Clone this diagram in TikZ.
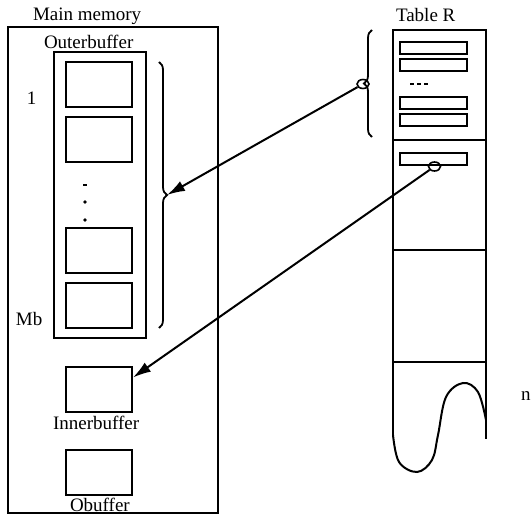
\documentclass[tikz,border=0pt]{standalone}
\usepackage{fontspec}
\setmainfont{Liberation Serif}
\usepackage{tikz}
\usetikzlibrary{shapes.geometric,decorations.pathreplacing,arrows.meta}

\tikzset{
  buf/.style={draw, line width=2pt, minimum width=66pt, minimum height=45pt, inner sep=0pt},
  rec/.style={draw, line width=2pt, minimum width=67pt, minimum height=12pt, inner sep=0pt},
  ptr/.style={draw, ellipse, line width=1.6pt, minimum width=12pt, minimum height=9pt, inner sep=0pt},
  lbl/.style={font=\fontsize{19}{19}\selectfont, inner sep=0pt, anchor=base west},
  brc/.style={decorate, decoration={brace, amplitude=8pt}, line width=1.8pt},
  pnt/.style={-{Latex[length=18pt,width=11pt]}, line width=2pt},
}

\begin{document}
\begin{tikzpicture}[x=1pt, y=-1pt, line width=2pt]
    \useasboundingbox (0,0) rectangle (531,516);

    % Main memory
    \node[draw, line width=2pt, minimum width=210pt, minimum height=486pt] (mem) at (113,270) {};
    \node[lbl] (memlbl) at (32,21) {Main memory};

    % Outer buffer with its Mb blocks
    \node[draw, line width=2pt, minimum width=92pt, minimum height=286pt] (outer) at (100,195) {};
    \node[lbl] (outerlbl) at (43,49) {Outerbuffer};
    \node[buf] (blk1) at (99,84.5) {};
    \node[buf] (blk2) at (99,140) {};
    \node[buf] (blk3) at (99,250.5) {};
    \node[buf] (blk4) at (99,306) {};
    \draw (83,185) -- (87,185);
    \fill (85,202) circle (1.8pt);
    \fill (85,220) circle (1.8pt);
    \node[lbl] (first) at (26,105) {1};
    \node[lbl] (last) at (15,326) {Mb};

    % brace over the outer buffer
    \coordinate (otop) at (159,62);
    \coordinate (obot) at (159,328);
    \draw[brc] (otop) -- (obot);
    \coordinate (otip) at (167,195);

    % Inner buffer and output buffer
    \node[buf] (inner) at (99,389.5) {};
    \node[lbl] (innerlbl) at (52,429) {Innerbuffer};
    \node[buf] (obuf) at (99,472) {};
    \node[lbl] (obuflbl) at (69,511) {Obuffer};

    % Table R
    \node[lbl] (tablbl) at (395,22) {Table R};
    \draw (393,435) -- (393,30) -- (486,30) -- (486,439);
    \draw (393,140) -- (486,140);
    \draw (393,250) -- (486,250);
    \draw (393,362) -- (486,362);
    \draw plot[smooth, tension=0.6] coordinates {(393,435) (399,462) (417,472) (432,460) (438,435) (446,397) (463,383) (478,392) (486,420)};
    \node[lbl] (nlbl) at (520,400) {n};

    % records of table R
    \node[rec] (r1) at (433.5,48) {};
    \node[rec] (r2) at (433.5,65.5) {};
    \draw[dash pattern=on 4pt off 3pt] (410,84) -- (428,84);
    \node[rec] (r3) at (433.5,103) {};
    \node[rec] (r4) at (433.5,120.5) {};
    \node[rec] (r5) at (433.5,159) {};

    % brace over the first records
    \coordinate (ttop) at (372,30);
    \coordinate (tbot) at (372,137);
    \draw[brc] (tbot) -- (ttop);

    % pointers
    \node[ptr] (p1) at (363,84) {};
    \node[ptr] (p2) at (434.5,166.5) {};
    \draw[pnt] (p1) -- (otip);
    \draw[pnt] (p2) -- ([yshift=12pt]inner.east);
\end{tikzpicture}
\end{document}
